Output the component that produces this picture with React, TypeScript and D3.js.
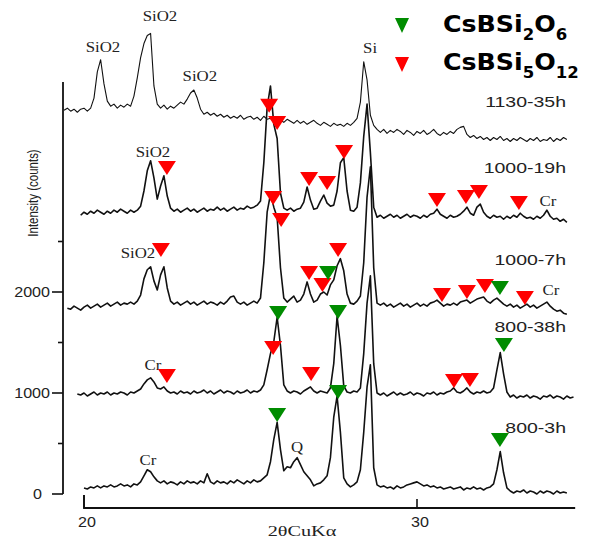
import React from 'react';
import * as d3 from 'd3';

// XRD scans, one per heat treatment (counts above each trace's own baseline)
const SAMPLES = ['1130-35h', '1000-19h', '1000-7h', '800-38h', '800-3h'];
const SCAN_START = [19.4, 19.9, 19.5, 19.8, 20.0];
const SCAN_STEP = 0.1;
const BASELINE = [3800, 2780, 1840, 990, 60];
const LABEL_AT = [3830, 3180, 2270, 1600, 600];

const SCAN_1130_35H = [
  0, 20, -10, 10, -20, 10, 20, -10, 20, 120,
  380, 500, 260, 90, 40, 60, 20, 50, 30, 60,
  40, 140, 320, 520, 660, 740, 760, 240, 60, 20,
  50, 10, 40, 20, 50, 80, 60, 110, 170, 200,
  120, 10, -40, -20, -50, -30, -60, -40, -70, -50,
  -80, -60, -80, -50, -90, -70, -60, -90, -70, -100,
  -60, -90, -80, -110, -80, -100, -120, -90, -110, -130,
  -100, -130, -110, -140, -120, -100, -130, -150, -120, -140,
  -160, -130, -150, -140, -160, -130, -150, -120, -80, 80,
  480, 300, -50, -150, -190, -220, -190, -230, -200, -220,
  -190, -210, -240, -200, -220, -250, -210, -230, -200, -240,
  -220, -190, -230, -250, -220, -240, -210, -230, -190, -170,
  -160, -240, -270, -250, -280, -260, -290, -270, -300, -270,
  -290, -260, -300, -280, -310, -280, -300, -270, -290, -310,
  -280, -300, -270, -310, -290, -300, -270, -310, -280, -300,
  -270, -290,
];

const SCAN_1000_19H = [
  -20, 10, -10, 20, 0, 30, 10, -10, 20, 0,
  30, 10, 40, 20, 0, 30, 10, 30, 70, 220,
  420, 520, 350, 140, 270, 370, 170, 50, 20, 40,
  10, 30, 50, 20, 40, 10, 30, 50, 20, 40,
  30, 60, 30, 50, 20, 40, 60, 30, 50, 40,
  70, 50, 60, 80, 120, 500, 1050, 1260, 880, 740,
  200, 50, 30, 50, 20, 40, 50, 110, 260, 130,
  40, 50, 120, 180, 100, 70, 80, 220, 500, 550,
  220, 30, 20, 60, 300, 760, 1080, 600, 60, -40,
  -20, -50, -30, -10, -40, -20, -50, -30, -10, -40,
  -20, -30, -50, -20, -40, -10, 0, 40, -10, -30,
  -50, -20, -40, -30, -10, 20, 60, 0, -20, 60,
  90, 10, -30, -50, -20, -40, -30, -60, -30, -50,
  -20, -40, 0, -30, -50, -40, -60, -30, -50, -20,
  30, -30, -60, -50, -80, -60, -90,
];

const SCAN_1000_7H = [
  0, -10, 20, 0, -20, 10, 30, 0, 20, 40,
  10, 30, 50, 20, 40, 60, 30, 50, 40, 60,
  40, 70, 130, 290, 380, 410, 270, 180, 330, 410,
  200, 70, 40, 60, 30, 50, 70, 40, 60, 30,
  50, 70, 40, 60, 50, 30, 60, 40, 70, 110,
  120, 60, 40, 60, 30, 50, 70, 50, 100, 450,
  950, 1130, 1000, 900, 400, 100, 60, 90, 120, 60,
  80, 140, 260, 140, 60, 80, 140, 160, 130, 230,
  280, 420, 490, 370, 140, 50, 40, 70, 120, 450,
  1100, 1400, 400, 50, 30, 50, 20, 40, 10, 30,
  50, 20, 40, 10, 30, 50, 20, 40, 20, 50,
  60, 80, 50, 20, 40, 30, 50, 30, 60, 70,
  80, 50, 70, 90, 100, 110, 70, 50, 80, 100,
  70, 40, 20, 40, 10, 30, 0, 20, 40, 10,
  30, 0, 20, 40, 60, 20, -10, -30, -20, -50,
  -60,
];

const SCAN_800_38H = [
  0, -10, 10, -20, 0, 20, -10, 10, 0, 20,
  -10, 10, 0, 20, 10, -10, 20, 10, 30, 50,
  100, 140, 160, 120, 60, 50, 70, 30, 10, 20,
  0, 30, 10, 20, 0, 30, 10, 20, 40, 10,
  30, 0, 20, 40, 10, 30, 20, 0, 30, 10,
  20, 40, 10, 30, 20, 40, 90, 240, 400, 520,
  760, 480, 90, 30, 10, 30, 20, 0, 30, 50,
  70, 30, 10, 30, 20, 10, 60, 300, 770, 480,
  80, 20, 10, 30, 20, 60, 400, 900, 1170, 300,
  10, -10, 10, -20, 0, 20, -10, 10, -10, 0,
  20, -10, 10, 0, -20, 10, 0, 20, -10, 10,
  0, 20, 30, 60, 20, 10, 30, 60, 20, 0,
  20, 10, 30, 10, 20, 60, 240, 410, 200, 20,
  -30, -10, -40, -20, -30, -10, -40, -20, -30, -50,
  -20, -30, -10, -40, -20, -30, -50, -20, -40, -30,
];

const SCAN_800_3H = [
  0, -10, 10, 0, 20, 0, 20, 10, 30, 10,
  20, 40, 20, 30, 10, 40, 30, 60, 120, 180,
  160, 110, 70, 50, 70, 40, 60, 50, 30, 60,
  40, 70, 50, 60, 40, 70, 50, 140, 60, 40,
  70, 50, 60, 40, 70, 50, 80, 60, 40, 70,
  50, 80, 60, 70, 100, 130, 260, 480, 650, 380,
  170, 210, 200, 260, 300, 230, 160, 120, 80, 20,
  40, 50, 80, 120, 300, 700, 910, 550, 100, 40,
  10, 30, 60, 180, 550, 1000, 1220, 200, 30, 10,
  20, 0, 10, -10, 20, 0, 10, 30, 40, 50,
  60, 40, 20, 30, 10, 20, 0, 10, -10, 0,
  10, -10, 0, 10, -20, 0, -10, 10, -10, 0,
  -20, 0, 10, 40, 180, 360, 150, 0, -30, -50,
  -30, -40, -20, -50, -30, -40, -60, -30, -50, -30,
  -40, -60, -30, -50, -40, -50,
];

const SCANS = [SCAN_1130_35H, SCAN_1000_19H, SCAN_1000_7H, SCAN_800_38H, SCAN_800_3H];

// [2theta, counts] of each marker tip
const CSBSI2O6_PEAKS: [number, number][] = [
  [27.33, 2119], [32.49, 1970],
  [25.83, 1723], [27.63, 1733], [32.61, 1406],
  [25.8, 713], [27.63, 941], [32.49, 465],
];

const CSBSI5O12_PEAKS: [number, number][] = [
  [25.56, 3775], [25.8, 3605], [22.49, 3158], [26.76, 3050], [27.3, 3010], [27.81, 3317],
  [30.6, 2842], [31.47, 2871], [31.86, 2921], [33.06, 2812],
  [22.31, 2347], [25.68, 2861], [25.92, 2644], [26.76, 2119], [27.16, 2000], [27.63, 2347],
  [30.75, 1901], [31.5, 1931], [32.04, 1990], [33.24, 1871],
  [22.49, 1099], [25.68, 1376], [26.82, 1119], [31.11, 1050], [31.59, 1059],
];

// other phases: [label, 2theta, counts]
const PHASE_NOTES: [string, number, number][] = [
  ['SiO2', 20.57, 4376], ['SiO2', 22.28, 4683], ['SiO2', 23.48, 4089], ['Si', 28.59, 4366],
  ['SiO2', 22.07, 3337], ['SiO2', 21.62, 2337],
  ['Cr', 33.93, 2851], ['Cr', 34.02, 1970], ['Cr', 22.07, 1228], ['Cr', 21.92, 287],
  ['Q', 26.4, 416],
];

const Y_TICKS = [0, 500, 1000, 1500, 2000, 2500];
const X_TICKS = [20, 30];

const SANS = '"Liberation Sans", Arial, sans-serif';
const SERIF = '"Liberation Serif", "Times New Roman", serif';
const RED = '#ff0000';
const GREEN = '#008c00';

const App: React.FC = () => {
  const x = d3.scaleLinear().domain([20, 30]).range([84, 417]);
  const y = d3.scaleLinear().domain([0, 1000]).range([494, 393]);

  const line = d3.line<[number, number]>()
    .x((d) => x(d[0]))
    .y((d) => y(d[1]));

  const tri = (d: [number, number]) => `M${x(d[0])},${y(d[1])} l-9,-14 h18 z`;

  return (
    <svg width={604} height={541} style={{ position: 'absolute', left: 0, top: 0, background: '#fff' }}>
      {/* traces */}
      {SCANS.map((scan, i) => {
        const pts = scan.map((v, j) => [SCAN_START[i] + j * SCAN_STEP, BASELINE[i] + v] as [number, number]);
        return (
          <path key={SAMPLES[i]} d={line(pts) || ''} fill="none" stroke="#111"
            strokeWidth={i === 0 ? 1.1 : 1.6} strokeLinejoin="round" />
        );
      })}

      {/* sample names */}
      {SAMPLES.map((s, i) => (
        <text key={s} transform={`translate(566,${y(LABEL_AT[i])}) scale(1.3,1)`} textAnchor="end"
          fontFamily={SANS} fontSize={15} fill="#222">{s}</text>
      ))}

      {/* phase notes */}
      {PHASE_NOTES.map(([t, a, c], i) => (
        <text key={i} transform={`translate(${x(a)},${y(c)}) scale(1.2,1)`} textAnchor="middle"
          fontFamily={SERIF} fontSize={14} fill="#222">{t}</text>
      ))}

      {/* markers */}
      {CSBSI5O12_PEAKS.map((d, i) => <path key={'r' + i} d={tri(d)} fill={RED} />)}
      {CSBSI2O6_PEAKS.map((d, i) => <path key={'g' + i} d={tri(d)} fill={GREEN} />)}

      {/* y axis */}
      <line x1={63} x2={63} y1={y(0)} y2={y(4080)} stroke="#111" strokeWidth={1.8} />
      {Y_TICKS.map((t) => (
        <g key={t}>
          <line x1={t % 1000 === 0 ? 52 : 58} x2={63} y1={y(t)} y2={y(t)} stroke="#111" strokeWidth={1.6} />
          {t % 1000 === 0 && (
            <text transform={`translate(${t === 0 ? 42 : 50},${y(t) + 5}) scale(1.15,1)`} textAnchor="end"
              fontFamily={SANS} fontSize={14} fill="#222">{t}</text>
          )}
        </g>
      ))}
      <text transform="translate(38,193) rotate(-90) scale(0.82,1)" textAnchor="middle" fontFamily={SANS}
        fontSize={14} fill="#222">
        Intensity (counts)
      </text>

      {/* x axis */}
      <path d={`M${x(20)},${495} V508 H${x(34.75)}`} fill="none" stroke="#111" strokeWidth={1.8} />
      {X_TICKS.map((t) => (
        <g key={t}>
          <line x1={x(t)} x2={x(t)} y1={508} y2={t === 20 ? 495 : 499} stroke="#111" strokeWidth={1.6} />
          <text transform={`translate(${x(t) + 3},527) scale(1.15,1)`} textAnchor="middle"
            fontFamily={SANS} fontSize={14} fill="#222">{t}</text>
        </g>
      ))}
      <text transform="translate(302,536) scale(1.35,1)" textAnchor="middle" fontFamily={SERIF} fontSize={15} fill="#222">
        2θCuKα
      </text>

      {/* legend */}
      <path d="M402,33 l-7,-15 h14 z" fill={GREEN} />
      <path d="M402,72 l-7,-15 h14 z" fill={RED} />
      <g fontFamily='"DejaVu Sans", sans-serif' fontWeight="bold" fontSize={23} fill="#000">
        <text transform="translate(443,32) scale(1.1,1)">
          CsBSi<tspan dy={8} fontSize={15}>2</tspan><tspan dy={-8}>O</tspan><tspan dy={8} fontSize={15}>6</tspan>
        </text>
        <text transform="translate(443,70) scale(1.1,1)">
          CsBSi<tspan dy={8} fontSize={15}>5</tspan><tspan dy={-8}>O</tspan><tspan dy={8} fontSize={15}>12</tspan>
        </text>
      </g>
    </svg>
  );
};

export default App;
